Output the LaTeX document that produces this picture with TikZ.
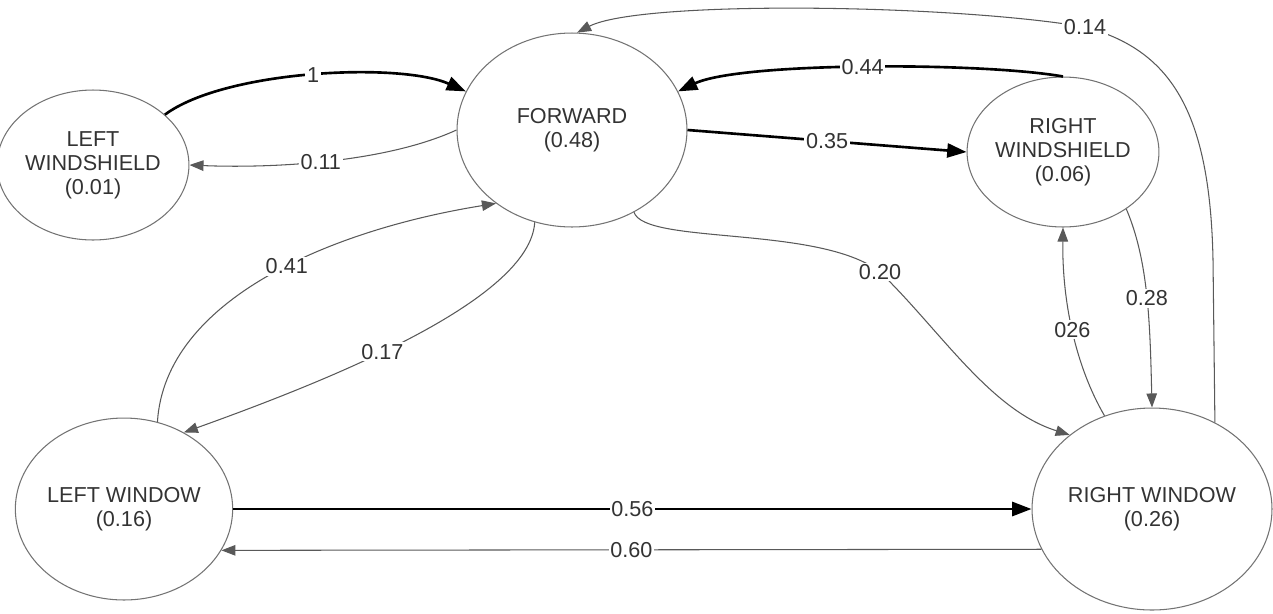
\documentclass[tikz,border=0pt]{standalone}
\usepackage{fontspec}
\setmainfont{Liberation Sans}
\usetikzlibrary{shapes.geometric,arrows.meta}
\begin{document}
\begin{tikzpicture}[x=0.02cm,y=-0.02cm,
  state/.style={ellipse,draw=black!55,line width=0.6pt,align=center,text=black!80,
    font=\fontsize{12.3}{13.6}\selectfont,inner sep=0pt},
  thinedge/.style={draw=black!65,line width=0.6pt,-{Triangle[length=8pt,width=6pt]}},
  thickedge/.style={draw=black,line width=1.5pt,-{Triangle[length=11pt,width=8pt]}},
  lbl/.style={fill=white,inner sep=1pt,text=black!80,font=\fontsize{12.3}{13.6}\selectfont}
]
\useasboundingbox (0,0) rectangle (1273,613);

\node[state,minimum width=3.6cm,minimum height=3.0cm] (LWs) at (93,165) {LEFT\\WINDSHIELD\\(0.01)};
\node[state,minimum width=4.6cm,minimum height=3.88cm] (F) at (572,130) {FORWARD\\(0.48)};
\node[state,minimum width=3.56cm,minimum height=3.0cm] (RWs) at (1063,152) {RIGHT\\WINDSHIELD\\(0.06)};
\node[state,minimum width=4.32cm,minimum height=3.64cm] (LW) at (124,509) {LEFT WINDOW\\(0.16)};
\node[state,minimum width=4.8cm,minimum height=4.04cm] (RW) at (1152,509) {RIGHT WINDOW\\(0.26)};

% LEFT WINDSHIELD -> FORWARD (1)
\draw[thickedge] (LWs.35) .. controls (225,70) and (400,62) .. (F.160) node[lbl,pos=0.5] {1};
% FORWARD -> LEFT WINDSHIELD (0.11)
\draw[thinedge] (F.180) .. controls (380,165) and (260,168) .. (LWs.0) node[lbl,pos=0.5] {0.11};
% FORWARD -> RIGHT WINDSHIELD (0.35)
\draw[thickedge] (F.0) -- (RWs.180) node[lbl,pos=0.5] {0.35};
% RIGHT WINDSHIELD -> FORWARD (0.44)
\draw[thickedge] (RWs.90) .. controls (980,62) and (740,62) .. (F.20) node[lbl,pos=0.5] {0.44};
% RIGHT WINDOW -> FORWARD (0.14)
\coordinate (c14) at (1213,260);
\draw[thinedge] (RW.54) -- (c14) .. controls (1210,110) and (1170,50) .. (1085,27) node[lbl] {0.14}
  .. controls (950,4) and (640,0) .. (F.87);
% FORWARD -> RIGHT WINDOW (0.20)
\draw[thinedge] (F.-53) .. controls (645,245) and (820,225) .. (880,272) node[lbl] {0.20}
  .. controls (940,330) and (990,410) .. (RW.138);
% RIGHT WINDSHIELD -> RIGHT WINDOW (0.28)
\draw[thinedge] (RWs.-42) .. controls (1148,260) and (1150,320) .. (RW.90) node[lbl,pos=0.52] {0.28};
% RIGHT WINDOW -> RIGHT WINDSHIELD (026)
\draw[thinedge] (RW.117) .. controls (1075,365) and (1062,300) .. (RWs.-90) node[lbl,pos=0.5] {026};
% LEFT WINDOW -> FORWARD (0.41)
\draw[thinedge] (LW.69) .. controls (165,300) and (330,230) .. (F.-136) node[lbl,pos=0.55] {0.41};
% FORWARD -> LEFT WINDOW (0.17)
\draw[thinedge] (F.-112) .. controls (530,300) and (330,380) .. (LW.52) node[lbl,pos=0.57] {0.17};
% LEFT WINDOW -> RIGHT WINDOW (0.56)
\draw[thickedge] (LW.0) -- (RW.180) node[lbl,pos=0.5] {0.56};
% RIGHT WINDOW -> LEFT WINDOW (0.60)
\draw[thinedge] (RW.-160) -- (LW.-23) node[lbl,pos=0.5] {0.60};
\end{tikzpicture}
\end{document}
